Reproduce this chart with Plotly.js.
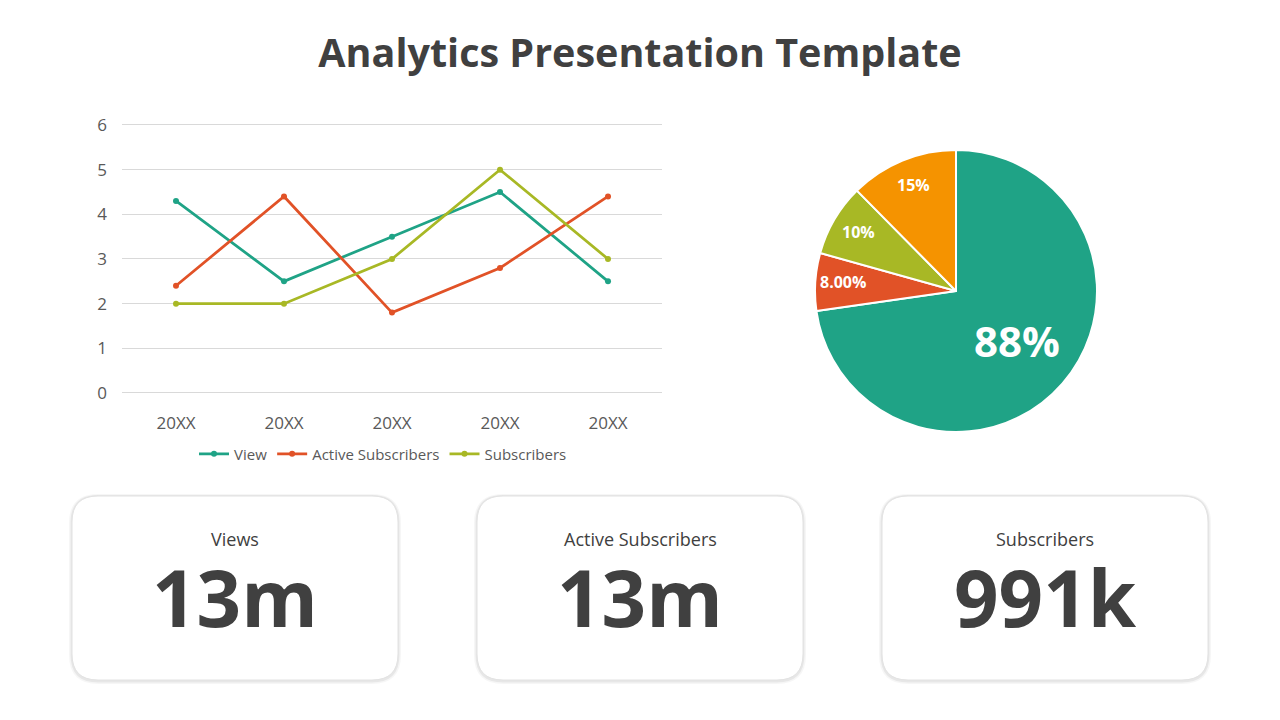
<!DOCTYPE html>
<html><head><meta charset="utf-8">
<script src="https://cdn.plot.ly/plotly-3.0.1.min.js"></script>
<style>html,body{margin:0;padding:0;background:#fff}#chart{width:1280px;height:720px}</style>
</head><body><div id="chart"></div><script>
// ---- data ----
const years = ['20XX','20XX','20XX','20XX','20XX'];
const viewVals = [4.3, 2.5, 3.5, 4.5, 2.5];
const activeVals = [2.4, 4.4, 1.8, 2.8, 4.4];
const subsVals = [2, 2, 3, 5, 3];
const seriesNames = ['View', 'Active Subscribers', 'Subscribers'];
const yTicks = [0, 1, 2, 3, 4, 5, 6];
const pieValues = [88, 8, 10, 15];
const pieLabels = ['88%', '8.00%', '10%', '15%'];
const cardLabels = ['Views', 'Active Subscribers', 'Subscribers'];
const cardValues = ['13m', '13m', '991k'];

// ---- styles ----
const W = 1280, H = 720;
const FONT = 'Open Sans, Noto Sans, sans-serif';
const colors = ['#1FA386', '#E15227', '#A8B825', '#F59300'];
const px = v => v / W, py = v => 1 - v / H;
const idx = years.map((_, i) => i);

function lineTrace(name, vals, color) {
  return {type: 'scatter', mode: 'lines+markers', name: name, x: idx, y: vals,
    line: {color: color, width: 2.75}, marker: {color: color, size: 6},
    xaxis: 'x', yaxis: 'y', hoverinfo: 'skip'};
}
const traces = [
  lineTrace(seriesNames[0], viewVals, colors[0]),
  lineTrace(seriesNames[1], activeVals, colors[1]),
  lineTrace(seriesNames[2], subsVals, colors[2]),
];

const pieDom = {x: [px(815), px(1097)], y: [py(432), py(150)]};
traces.push({type: 'pie', values: pieValues, labels: pieLabels, sort: false,
  direction: 'clockwise', rotation: 0, textinfo: 'none', showlegend: false,
  marker: {colors: colors, line: {color: '#ffffff', width: 2}},
  domain: pieDom, automargin: false, hoverinfo: 'skip'});

const annotations = [];
// pie labels positioned along each slice bisector
const total = pieValues.reduce((a, b) => a + b, 0);
const cx = (pieDom.x[0] + pieDom.x[1]) / 2 * W;
const cy = (1 - (pieDom.y[0] + pieDom.y[1]) / 2) * H;
const R = Math.min((pieDom.x[1] - pieDom.x[0]) * W, (pieDom.y[1] - pieDom.y[0]) * H) / 2;
let cum = 0;
pieValues.forEach((v, i) => {
  const mid = (cum + v / 2) / total * 2 * Math.PI;
  cum += v;
  const big = i === 0;
  const f = big ? 0.57 : 0.8;
  const x = cx + R * f * Math.sin(mid), y = cy - R * f * Math.cos(mid) - (big ? 3 : 2);
  annotations.push({xref: 'paper', yref: 'paper', x: px(x), y: py(y),
    xanchor: 'center', yanchor: 'middle', showarrow: false, text: '<b>' + pieLabels[i] + '</b>',
    font: {family: FONT, size: big ? 42 : 16, color: '#ffffff'}});
});

// cards
function roundRect(x0, y0, x1, y1, r) {
  const X = v => px(v), Y = v => py(v);
  return 'M' + X(x0 + r) + ',' + Y(y0) +
    ' L' + X(x1 - r) + ',' + Y(y0) + ' Q' + X(x1) + ',' + Y(y0) + ' ' + X(x1) + ',' + Y(y0 + r) +
    ' L' + X(x1) + ',' + Y(y1 - r) + ' Q' + X(x1) + ',' + Y(y1) + ' ' + X(x1 - r) + ',' + Y(y1) +
    ' L' + X(x0 + r) + ',' + Y(y1) + ' Q' + X(x0) + ',' + Y(y1) + ' ' + X(x0) + ',' + Y(y1 - r) +
    ' L' + X(x0) + ',' + Y(y0 + r) + ' Q' + X(x0) + ',' + Y(y0) + ' ' + X(x0 + r) + ',' + Y(y0) + ' Z';
}
const shapes = [];
const cardLeft = [72, 477, 882], cardW = 326, cardTop = 496, cardBot = 680, rad = 26;
cardLabels.forEach((lab, i) => {
  const x0 = cardLeft[i], x1 = x0 + cardW;
  shapes.push({type: 'path', xref: 'paper', yref: 'paper', layer: 'below',
    path: roundRect(x0 - 3, cardTop - 2, x1 + 3, cardBot + 4, rad + 3),
    fillcolor: 'rgba(0,0,0,0.035)', line: {width: 0}});
  shapes.push({type: 'path', xref: 'paper', yref: 'paper', layer: 'below',
    path: roundRect(x0 - 1.5, cardTop - 1, x1 + 1.5, cardBot + 2.5, rad + 1.5),
    fillcolor: 'rgba(0,0,0,0.06)', line: {width: 0}});
  shapes.push({type: 'path', xref: 'paper', yref: 'paper', layer: 'below',
    path: roundRect(x0, cardTop, x1, cardBot, rad),
    fillcolor: '#ffffff', line: {color: '#e2e2e2', width: 1}});
  const cxc = (x0 + x1) / 2;
  annotations.push({xref: 'paper', yref: 'paper', x: px(cxc), y: py(539), xanchor: 'center', yanchor: 'middle',
    showarrow: false, text: lab, font: {family: FONT, size: 18, color: '#404040'}});
  annotations.push({xref: 'paper', yref: 'paper', x: px(cxc), y: py(597), xanchor: 'center', yanchor: 'middle',
    showarrow: false, text: '<b>' + cardValues[i] + '</b>', height: 84, valign: 'middle',
    font: {family: FONT, size: 78, color: '#404040'}});
});

const yPad = 0.05, unitPx = (393 - 125) / 6;
const layout = {
  width: W, height: H, margin: {l: 0, r: 0, t: 0, b: 0},
  paper_bgcolor: '#ffffff', plot_bgcolor: '#ffffff',
  title: {text: '<b>Analytics Presentation Template</b>', x: 0.5, xanchor: 'center', y: py(53), yanchor: 'middle',
    font: {family: FONT, size: 39.5, color: '#404040'}},
  xaxis: {domain: [px(122), px(662)], range: [-0.5, 4.5], tickvals: idx, ticktext: years,
    showgrid: false, zeroline: false, showline: false, ticks: '', fixedrange: true,
    ticklabelstandoff: 16, tickfont: {family: FONT, size: 17, color: '#595959'}},
  yaxis: {domain: [py(393 + yPad * unitPx), py(125 - yPad * unitPx)], range: [-yPad, 6 + yPad], tickvals: yTicks,
    showgrid: true, gridcolor: '#d9d9d9', gridwidth: 1,
    zeroline: true, zerolinecolor: '#d9d9d9', zerolinewidth: 1, showline: false, ticks: '', fixedrange: true,
    ticklabelstandoff: 14, tickfont: {family: FONT, size: 17, color: '#595959'}},
  showlegend: true,
  legend: {orientation: 'h', x: px(383), xanchor: 'center', y: py(454), yanchor: 'middle',
    font: {family: FONT, size: 15, color: '#595959'}, itemwidth: 30, tracegroupgap: 0,
    bgcolor: 'rgba(0,0,0,0)'},
  shapes: shapes, annotations: annotations,
};
Plotly.newPlot('chart', traces, layout, {staticPlot: true, displayModeBar: false});
</script></body></html>
